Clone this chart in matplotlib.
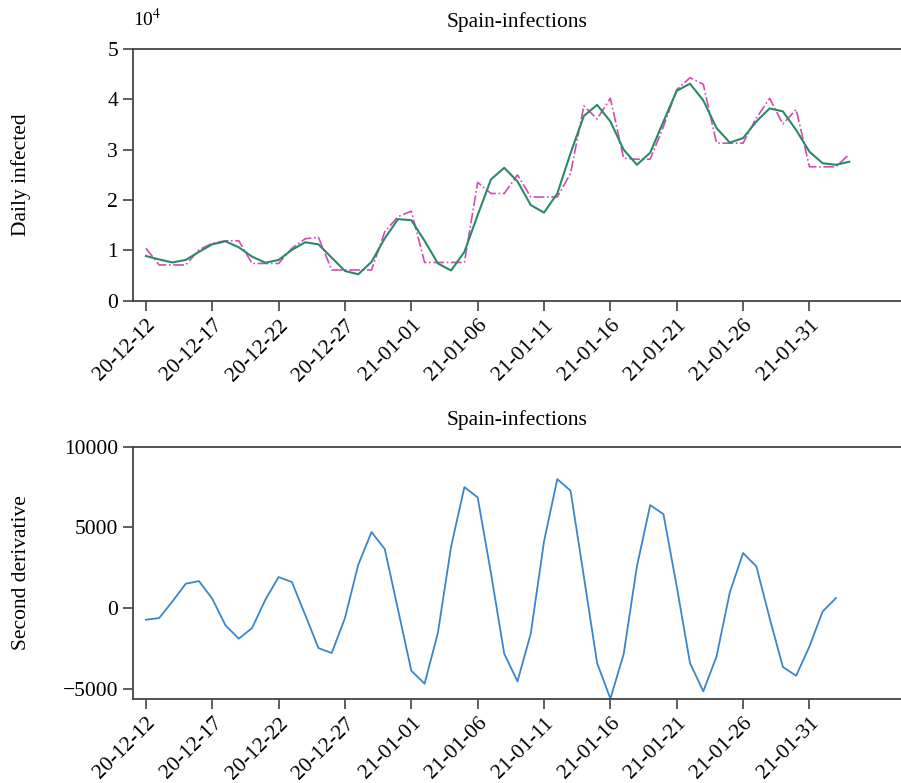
import numpy as np
import pandas as pd
import matplotlib
matplotlib.use("Agg")
import matplotlib.pyplot as plt
import matplotlib.dates as mdates
from matplotlib.ticker import FuncFormatter

plt.rcParams['font.family'] = ['Liberation Serif', 'DejaVu Serif']
plt.rcParams['mathtext.fontset'] = 'stix'

start = pd.Timestamp('2020-12-12')

# daily infections, raw (dash-dot) and smoothed (solid)
raw_cases = [10400, 7100, 7100, 7100, 10100, 11400, 11900, 11900, 7400, 7400,
             7400, 10400, 12300, 12600, 6100, 6100, 6100, 6100, 13700, 16700,
             17800, 7600, 7600, 7600, 7600, 23500, 21300, 21300, 25000, 20600,
             20600, 20600, 25300, 38700, 36100, 40200, 28300, 28100, 28100, 34600,
             41900, 44300, 43000, 31300, 31300, 31300, 36300, 40200, 35100, 38000,
             26600, 26600, 26600, 29100]
smooth_cases = [8880, 8200, 7600, 8100, 9700, 11200, 11800, 10600, 8750, 7550,
                8100, 10100, 11600, 11200, 8550, 5900, 5250, 7700, 12400, 16200,
                16000, 11900, 7400, 6000, 9700, 17000, 24100, 26400, 23700, 19000,
                17500, 21300, 29300, 36700, 38900, 35600, 30000, 27000, 29400, 35600,
                41700, 43100, 39800, 34300, 31400, 32300, 35600, 38200, 37600, 33900,
                29600, 27300, 27000, 27600]

# second derivative of the smoothed series
second_deriv = [-725, -620, 410, 1505, 1670, 575, -1075, -1900, -1240, 515,
                1920, 1610, -415, -2480, -2790, -620, 2680, 4710, 3655, -105,
                -3885, -4690, -1550, 3820, 7495, 6855, 2170, -2830, -4545, -1590,
                4130, 7990, 7270, 1960, -3410, -5620, -2860, 2580, 6380, 5820,
                1340, -3410, -5165, -3000, 970, 3410, 2580, -620, -3655, -4195,
                -2380, -210, 620]

days_top = pd.date_range(start, periods=len(raw_cases), freq='D')
days_bot = pd.date_range(start, periods=len(second_deriv), freq='D')
tick_days = pd.date_range(start, '2021-01-31', freq='5D')

W, H = 901, 783
fig = plt.figure(figsize=(W / 100, H / 100), dpi=100)
ax1 = fig.add_axes([133.3 / W, 1 - 300.7 / H, 1 - 133.3 / W, 251.7 / H])
ax2 = fig.add_axes([133.3 / W, 1 - 698.7 / H, 1 - 133.3 / W, 252 / H])

spine_c = '#444444'
x0 = mdates.date2num(start)
xlim = (x0 - 0.95, x0 + 56.9)

ax1.plot(days_top, raw_cases, color='#d24bb4', lw=1.2, ls='-.')
ax1.plot(days_top, smooth_cases, color='#2a8a68', lw=1.5)
ax1.set_ylim(0, 50000)
ax1.set_yticks(np.arange(0, 50001, 10000))
ax1.yaxis.set_major_formatter(FuncFormatter(lambda v, p: '%d' % round(v / 1e4)))
ax1.text(0.0, 1.075, '10$^4$', transform=ax1.transAxes, fontsize=14, ha='left', va='bottom')
ax1.set_ylabel('Daily infected', fontsize=15.5)
ax1.set_title('Spain-infections', fontsize=15.5, pad=15.5)

ax2.plot(days_bot, second_deriv, color='#3b86c8', lw=1.3)
ax2.set_ylim(min(second_deriv), 10000)
ax2.set_yticks([-5000, 0, 5000, 10000])
ax2.yaxis.set_major_formatter(FuncFormatter(lambda v, p: ('\u2212%d' % -v) if v < 0 else '%d' % v))
ax2.set_ylabel('Second derivative', fontsize=15.5)
ax2.set_title('Spain-infections', fontsize=15.5, pad=15.5)

for ax in (ax1, ax2):
    ax.yaxis.set_label_coords(-0.133, 0.5)
    ax.set_xlim(*xlim)
    ax.set_xticks(tick_days)
    ax.xaxis.set_major_formatter(mdates.DateFormatter('%y-%m-%d'))
    for lab in ax.get_xticklabels():
        lab.set_rotation(45)
        lab.set_ha('right')
        lab.set_rotation_mode('anchor')
    ax.tick_params(direction='out', length=7, width=1.2, color=spine_c, labelsize=15.5, pad=4)
    ax.spines['right'].set_visible(False)
    for s in ('left', 'top', 'bottom'):
        ax.spines[s].set_color(spine_c)
        ax.spines[s].set_linewidth(1.3)

fig.savefig('out.png', dpi=100)
